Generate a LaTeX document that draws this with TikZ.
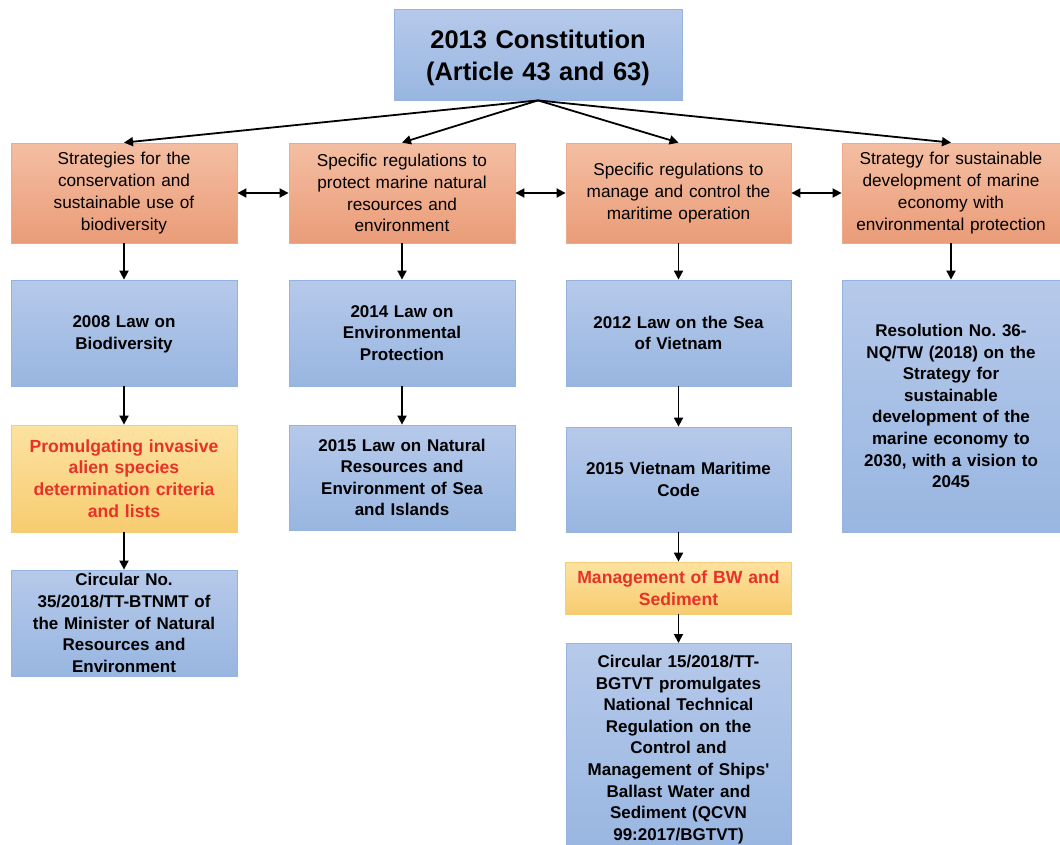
\documentclass[tikz,border=0pt]{standalone}
\usepackage{fontspec}
\setmainfont{Liberation Sans}[Ligatures=TeXOff]
\usetikzlibrary{arrows.meta}
\frenchspacing
\definecolor{bluetop}{RGB}{182,201,234}
\definecolor{bluebot}{RGB}{152,182,225}
\definecolor{blueedge}{RGB}{150,178,222}
\definecolor{ortop}{RGB}{244,190,162}
\definecolor{orbot}{RGB}{234,156,120}
\definecolor{oredge}{RGB}{236,170,140}
\definecolor{yetop}{RGB}{252,226,160}
\definecolor{yebot}{RGB}{247,204,112}
\definecolor{yeedge}{RGB}{245,205,120}
\definecolor{redtxt}{RGB}{232,50,40}
\tikzset{
  basebox/.style={rectangle, align=center, inner sep=2pt, line width=0.8pt},
  bluebox/.style={basebox, draw=blueedge, top color=bluetop, bottom color=bluebot,
    font=\fontsize{17}{21.6}\selectfont\bfseries, text=black},
  orbox/.style={basebox, draw=oredge, top color=ortop, bottom color=orbot,
    font=\fontsize{17.2}{21.7}\selectfont, text=black},
  yebox/.style={basebox, draw=yeedge, top color=yetop, bottom color=yebot,
    font=\fontsize{17.6}{21.6}\selectfont\bfseries, text=redtxt},
  arr/.style={-{Triangle[length=9pt,width=9pt]}, line width=1.8pt, black},
  darr/.style={{Triangle[length=9pt,width=9pt]}-{Triangle[length=9pt,width=9pt]}, line width=1.8pt, black},
}
\begin{document}
\begin{tikzpicture}[x=1pt,y=-1pt]
\useasboundingbox (0,0) rectangle (1060,844);
\fill[white] (0,0) rectangle (1060,844);

\node[bluebox, minimum width=288pt, minimum height=91pt, text width=280pt,
  font=\fontsize{25.5}{32}\selectfont\bfseries] (top) at (538,54.5)
  {\rule{0pt}{26pt}2013 Constitution\\(Article 43 and 63)};

% orange row
\node[orbox, minimum width=226pt, minimum height=100pt, text width=220pt] (o1) at (124,193)
  {Strategies for the\\conservation and\\sustainable use of\\biodiversity};
\node[orbox, minimum width=226pt, minimum height=100pt, text width=220pt] (o2) at (402,193)
  {Specific regulations to\\protect marine natural\\resources and\\environment};
\node[orbox, minimum width=225pt, minimum height=100pt, text width=220pt] (o3) at (678.5,193)
  {Specific regulations to\\manage and control the\\maritime operation\\[4pt]};
\node[orbox, minimum width=218pt, minimum height=100pt, text width=214pt] (o4) at (951,193)
  {Strategy for sustainable\\development of marine\\economy with\\environmental protection};

% blue row 2
\node[bluebox, minimum width=226pt, minimum height=106pt, text width=220pt] (b1) at (124,333)
  {\rule{0pt}{14pt}2008 Law on\\Biodiversity};
\node[bluebox, minimum width=226pt, minimum height=106pt, text width=220pt] (b2) at (402,333)
  {2014 Law on\\Environmental\\Protection};
\node[bluebox, minimum width=225pt, minimum height=106pt, text width=220pt] (b3) at (678.5,333)
  {2012 Law on the Sea\\of Vietnam};
\node[bluebox, minimum width=218pt, minimum height=252pt, text width=214pt] (b4) at (951,406)
  {Resolution No. 36-\\NQ/TW (2018) on the\\Strategy for\\sustainable\\development of the\\marine economy to\\2030, with a vision to\\2045};

% row 3
\node[yebox, minimum width=226pt, minimum height=107pt, text width=222pt] (y1) at (124,478.5)
  {Promulgating invasive\\alien species\\determination criteria\\and lists};
\node[bluebox, minimum width=226pt, minimum height=105pt, text width=220pt] (c2) at (402,477.5)
  {2015 Law on Natural\\Resources and\\Environment of Sea\\and Islands};
\node[bluebox, minimum width=225pt, minimum height=105pt, text width=220pt] (c3) at (678.5,479.5)
  {2015 Vietnam Maritime\\Code};

% row 4
\node[bluebox, minimum width=226pt, minimum height=106pt, text width=220pt] (d1) at (124,623)
  {Circular No.\\35/2018/TT-BTNMT of\\the Minister of Natural\\Resources and\\Environment};
\node[yebox, minimum width=225pt, minimum height=52pt, text width=222pt] (y3) at (678.5,588)
  {Management of BW and\\Sediment};
\node[bluebox, minimum width=225pt, minimum height=212pt, text width=220pt, anchor=north] (e3) at (678.5,643)
  {Circular 15/2018/TT-\\BGTVT promulgates\\National Technical\\Regulation on the\\Control and\\Management of Ships'\\Ballast Water and\\Sediment (QCVN\\99:2017/BGTVT)};

% connectors
\coordinate (fan) at (top.south);
\draw[arr] (fan) -- (o1.north);
\draw[arr] (fan) -- (o2.north);
\draw[arr] (fan) -- (o3.north);
\draw[arr] (fan) -- (o4.north);

\draw[darr] (o1.east) -- (o2.west);
\draw[darr] (o2.east) -- (o3.west);
\draw[darr] (o3.east) -- (o4.west);

\draw[arr] (o1.south) -- (b1.north);
\draw[arr] (o2.south) -- (b2.north);
\draw[arr] (o3.south) -- (b3.north);
\draw[arr] (o4.south) -- (b4.north);

\draw[arr] (b1.south) -- (y1.north);
\draw[arr] (b2.south) -- (c2.north);
\draw[arr] (b3.south) -- (c3.north);

\draw[arr] (y1.south) -- (d1.north);
\draw[arr] (c3.south) -- (y3.north);
\draw[arr] (y3.south) -- (e3.north);
\end{tikzpicture}
\end{document}
